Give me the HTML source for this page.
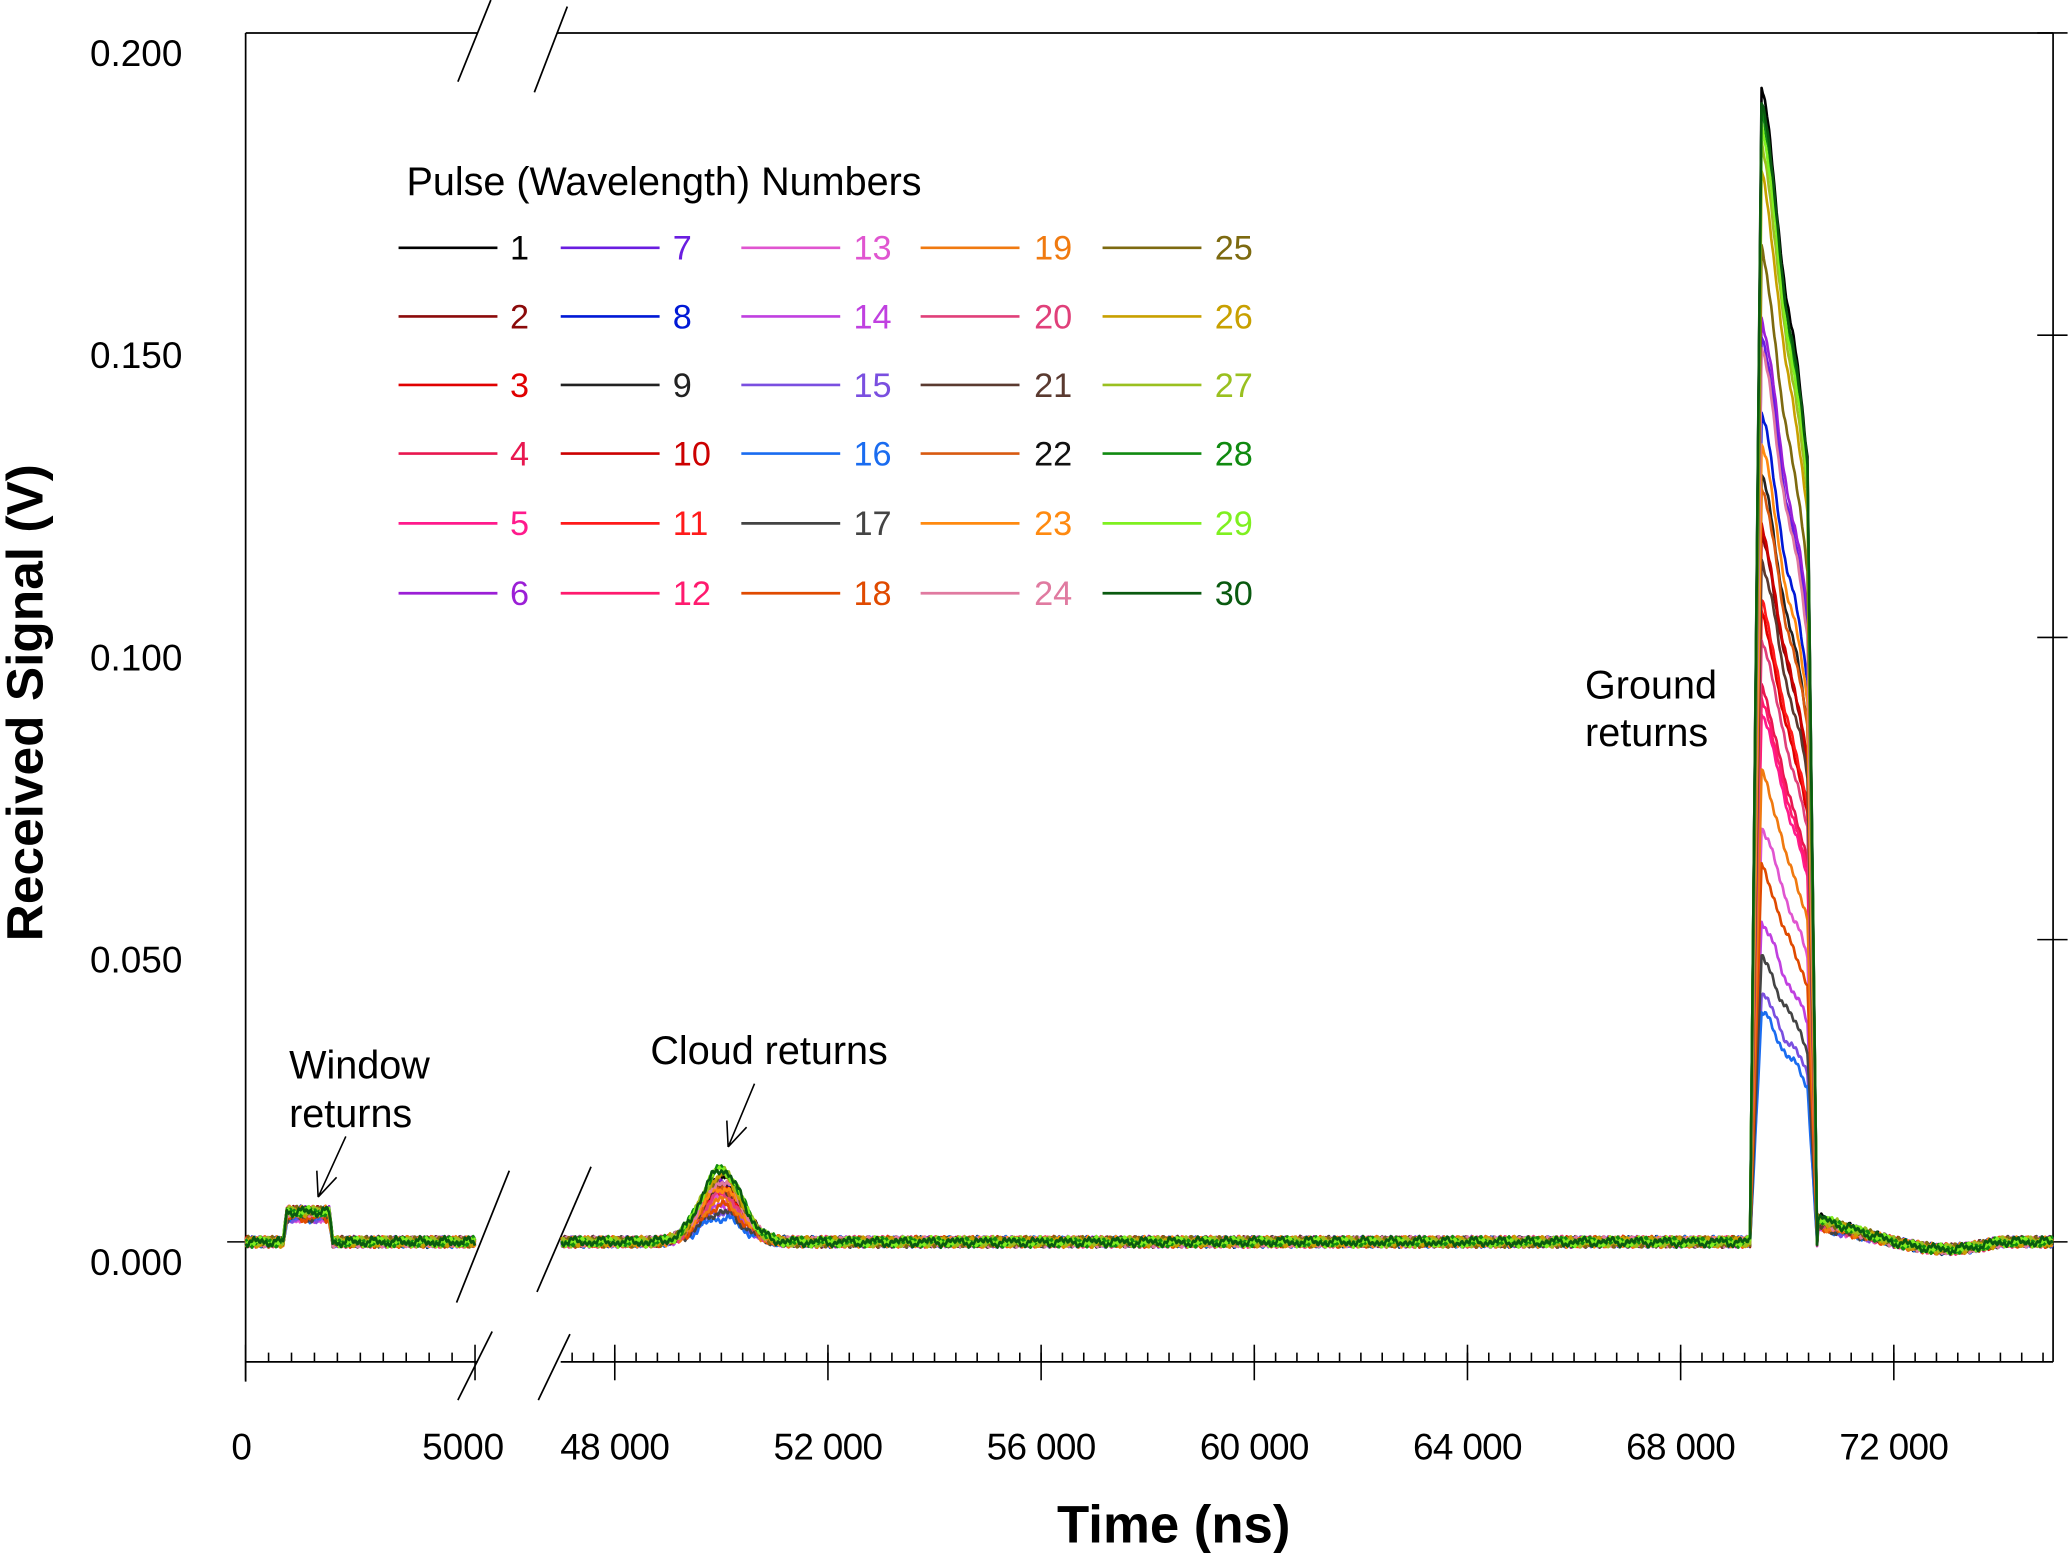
<!DOCTYPE html>
<html><head><meta charset="utf-8"><style>
html,body{margin:0;padding:0;background:#fff}
svg{display:block}
text{font-family:"Liberation Sans",Arial,sans-serif}
</style></head><body>
<svg id="chart" width="2068" height="1553" viewBox="0 0 1568 1178" xmlns="http://www.w3.org/2000/svg">
<g id="axes" stroke="#000" stroke-width="1.3" fill="none">
  <line x1="186" y1="25" x2="186" y2="1048"/>
  <line x1="1557" y1="25" x2="1557" y2="1033"/>
  <line x1="186" y1="25" x2="362" y2="25"/>
  <line x1="422" y1="25" x2="1557" y2="25"/>
  <line x1="186" y1="1033" x2="362" y2="1033"/>
  <line x1="425" y1="1033" x2="1557" y2="1033"/>
  <line x1="347" y1="62" x2="372" y2="0"/>
  <line x1="405" y1="70" x2="430" y2="5"/>
  <line x1="346" y1="988" x2="386" y2="888"/>
  <line x1="407" y1="980" x2="448" y2="885"/>
  <line x1="347" y1="1062" x2="373" y2="1010"/>
  <line x1="408" y1="1062" x2="432" y2="1012"/>
</g>
<g id="ticks" stroke="#000" stroke-width="1.2"></g>
<g id="ticklabels" font-size="28" fill="#000"></g>
<g id="series" fill="none" stroke-width="2" stroke-linejoin="round"></g>
<text transform="translate(32,533) rotate(-90)" text-anchor="middle" font-size="39" font-weight="bold">Received Signal (V)</text>
<text x="890" y="1170" text-anchor="middle" font-size="40" font-weight="bold">Time (ns)</text>
<g font-size="30" fill="#000">
  <text x="219" y="818">Window</text>
  <text x="219" y="855">returns</text>
  <text x="493" y="807">Cloud returns</text>
  <text x="1202" y="530">Ground</text>
  <text x="1202" y="566">returns</text>
  <g stroke="#000" stroke-width="1.2" fill="none">
    <path d="M262,862 L241,908 M241,908 L240,888 M241,908 L255,893"/>
    <path d="M572,822 L552,870 M552,870 L551,850 M552,870 L566,855"/>
  </g>
</g>
<g id="legend">
  <text x="308" y="148" font-size="30">Pulse (Wavelength) Numbers</text>
</g>
</svg>
<script>
const pulseIds = [1,2,3,4,5,6,7,8,9,10,11,12,13,14,15,16,17,18,19,20,21,22,23,24,25,26,27,28,29,30];
const groundPeaks = [0.191,0.117,0.104,0.092,0.088,0.153,0.150,0.137,0.127,0.118,0.106,0.090,0.069,0.053,0.041,0.038,0.047,0.062,0.078,0.100,0.113,0.125,0.132,0.148,0.164,0.177,0.182,0.188,0.185,0.189];
const cloudPeaks = [0.011,0.009,0.008,0.008,0.008,0.010,0.010,0.009,0.009,0.009,0.008,0.008,0.007,0.006,0.005,0.004,0.005,0.006,0.007,0.008,0.009,0.009,0.009,0.010,0.011,0.011,0.012,0.012,0.012,0.012];
const windowLevels = [0.005,0.005,0.005,0.005,0.005,0.005,0.005,0.005,0.005,0.005,0.005,0.005,0.004,0.004,0.004,0.004,0.004,0.004,0.005,0.005,0.005,0.005,0.005,0.005,0.005,0.005,0.005,0.005,0.005,0.005];
const lineColors = ["#000000","#8b0a0a","#e00000","#e8174f","#ff1a8c","#9b1fd6","#6a1de0","#0019d6","#222222","#cc0000","#ff1a1a","#ff1a6e","#e055d0","#c040e0","#7a4fe0","#1a6cf0","#444444","#e04a00","#f07a10","#e0407a","#5a3a30","#d85a10","#ff8a10","#e07aa0","#7d6a10","#c8a000","#9ac020","#108a10","#7ff020","#0a5a10"];
const labelColors = ["#000000","#8b0a0a","#e00000","#e8174f","#ff1a8c","#9b1fd6","#6a1de0","#0019d6","#222222","#cc0000","#ff1a1a","#ff1a6e","#e055d0","#c040e0","#7a4fe0","#1a6cf0","#444444","#e04a00","#f07a10","#e0407a","#5a3a30","#111111","#ff8a10","#e07aa0","#7d6a10","#c8a000","#9ac020","#108a10","#7ff020","#0a5a10"];
const yTicks = [0, 0.05, 0.10, 0.15, 0.20];
const yTickLabels = ["0.000","0.050","0.100","0.150","0.200"];
const xTicks1 = [0, 5000];
const xTickLabels1 = ["0","5000"];
const xTicks2 = [48000,52000,56000,60000,64000,68000,72000];
const xTickLabels2 = ["48 000","52 000","56 000","60 000","64 000","68 000","72 000"];

const NS = "http://www.w3.org/2000/svg";
function yS(v){ return 942 - v*4585; }
function x1S(t){ return 186 + t*174/5000; }
function x2S(t){ return 466 + (t-48000)*161.7/4000; }
function mk(tag, attrs, parent){ const e=document.createElementNS(NS,tag); for(const k in attrs) e.setAttribute(k,attrs[k]); parent.appendChild(e); return e; }

const tk = document.getElementById('ticks');
const tl = document.getElementById('ticklabels');
yTicks.forEach((v,i)=>{
  const y=yS(v);
  if(v===0){
    let l=mk('line',{x1:172,y1:y,x2:200,y2:y},tk);
    
    
  }
  let r=mk('line',{x1:1545,y1:y,x2:1568,y2:y},tk);
  
  
  let t=mk('text',{x:138,y:y+25,'text-anchor':'end'},tl); t.textContent=yTickLabels[i];
  
  
});
for(let t=500;t<5000;t+=500){ let l=mk('line',{x1:x1S(t),y1:1026,x2:x1S(t),y2:1033},tk);
  
   }
for(let t=47200;t<=75000;t+=400){ const x=x2S(t); if(x<425||x>1557) continue; let l=mk('line',{x1:x,y1:1026,x2:x,y2:1033},tk);
  
   }
xTicks1.forEach((v,i)=>{ const x=x1S(v);
  let l=mk('line',{x1:x,y1:1020,x2:x,y2:1047},tk);
  
  
  let t=mk('text',{x:i==0?x-3:x-9,y:1107,'text-anchor':'middle'},tl); t.textContent=xTickLabels1[i];
  
   });
xTicks2.forEach((v,i)=>{ const x=x2S(v);
  let l=mk('line',{x1:x,y1:1020,x2:x,y2:1047},tk);
  
  
  let t=mk('text',{x:x,y:1107,'text-anchor':'middle','letter-spacing':'-0.5'},tl); t.textContent=xTickLabels2[i];
  
   });

// deterministic texture noise
function noise(i,t){ const s=Math.sin(t*0.0123+i*7.1)*0.6+Math.sin(t*0.071+i*3.3)*0.4+Math.sin(t*0.29+i*1.7)*0.3; return s*0.00075; }
function ground(p,t){
  if(t<69300) return 0;
  if(t<69520) return p*(t-69300)/220;
  if(t<70380) return p*(1-0.32*(t-69520)/860)*(1+0.012*Math.sin((t-69520)/90));
  if(t<70560) return p*0.68*(1-(t-70380)/180);
  return 0;
}
function tail(i,t){
  let v=0;
  if(t>70560 && t<72000) v+=0.004*(1-(t-70560)/1440)*(0.5+groundPeaks[i]/0.38);
  if(t>72000 && t<74000) v-=0.0012*Math.sin(Math.PI*(t-72000)/2000);
  return v;
}
const ser = document.getElementById('series');
pulseIds.forEach((id,i)=>{
  const g=mk('g',{stroke:lineColors[i]},ser);
  
  
  let d='';
  for(let t=0;t<=5000;t+=20){
    let v=(t>=820&&t<=1900)?windowLevels[i]*(t<900?(t-820)/80:(t>1820?(1900-t)/80:1)):0;
    v+=noise(i,t);
    d+=(t==0?'M':'L')+x1S(t).toFixed(1)+','+yS(v).toFixed(1);
  }
  let p1=mk('path',{d:d},g);
  
  
  d='';
  for(let t=47000;t<=75000;t+=20){
    const x=x2S(t); if(x<425||x>1557) continue;
    let v=cloudPeaks[i]*Math.exp(-Math.pow((t-50000)/380,2)/2);
    v+=ground(groundPeaks[i],t)+tail(i,t)+noise(i,t);
    d+=(d===''?'M':'L')+x.toFixed(1)+','+yS(v).toFixed(1);
  }
  let p2=mk('path',{d:d},g);
  
  
});

const lg=document.getElementById('legend');
const rowY=[188,240,292,344,397,450];
const colLine=[302,425,562,698,836];
const colLabelX=[401,510,676,813,950];
const colAnchor=['end','start','end','end','end'];
pulseIds.forEach((id,i)=>{
  const c=Math.floor(i/6), r=i%6, y=rowY[r];
  const e=mk('g',{},lg);
  
  
  mk('line',{x1:colLine[c],y1:y,x2:colLine[c]+75,y2:y,stroke:lineColors[i],'stroke-width':2},e);
  const t=mk('text',{x:colLabelX[c],y:y+9,'text-anchor':colAnchor[c],'font-size':26,fill:labelColors[i]},e);
  t.textContent=String(id);
});
</script>
</body></html>
